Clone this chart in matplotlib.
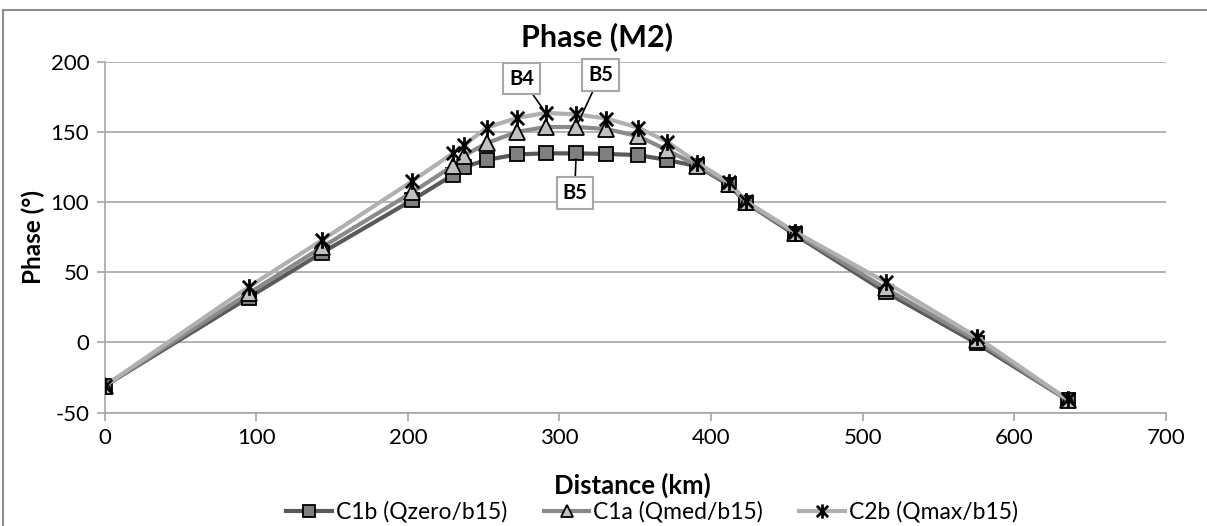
import matplotlib
matplotlib.use('Agg')
import matplotlib.pyplot as plt
from matplotlib.path import Path
from matplotlib.lines import Line2D

plt.rcParams['font.family'] = ['Lato', 'DejaVu Sans']
plt.rcParams['axes.unicode_minus'] = False

# Datos
distancia = [0, 95, 143.5, 203, 230, 237, 252, 272, 291, 311, 331, 352, 371, 391, 412, 423, 455, 515, 575, 635]
c1b = [-31, 32, 64, 101.5, 119.5, 125, 130, 134, 134.7, 134.7, 134.3, 133.5, 130, 125.5, 112, 99.5, 77, 36, -0.5, -41]
c1a = [-31, 35, 68, 107, 126, 133, 142, 150, 153.5, 153.5, 152, 147, 137, 126, 113, 100, 78, 38.5, 1.5, -41]
c2b = [-31, 39.5, 73, 115, 135, 140.5, 153, 160, 163.5, 162.5, 159.5, 153, 143, 128, 114, 100.5, 79, 43, 4, -40.5]
nombres = ['C1b (Qzero/b15)', 'C1a (Qmed/b15)', 'C2b (Qmax/b15)']

# Etiquetas: (texto, punto señalado, posición de la caja)
etiquetas = [
    ('B4', (291, 163.5), (275, 188)),
    ('B5', (311, 153.5), (327, 190.5)),
    ('B5', (311, 134.7), (310, 106.5)),
]

# Marcador "estrella" tipo Excel: X con línea vertical
estrella = Path([(-1, -1), (1, 1), (-1, 1), (1, -1), (0, -1.25), (0, 1.25)],
                [Path.MOVETO, Path.LINETO, Path.MOVETO, Path.LINETO, Path.MOVETO, Path.LINETO])

fig = plt.figure(figsize=(12.07, 5.26), dpi=100)
ax = fig.add_axes([0.0866, 0.2154, 0.8795, 0.6673])

ax.plot(distancia, c1b, color='#5a5a5a', lw=3, marker='s', ms=9.5,
        mfc='#808080', mec='black', mew=1.3, label=nombres[0], zorder=3)
ax.plot(distancia, c1a, color='#8a8a8a', lw=3, marker='^', ms=11,
        mfc='#c0c0c0', mec='black', mew=1.3, label=nombres[1], zorder=4)
ax.plot(distancia, c2b, color='#b0b0b0', lw=3, marker=estrella, ms=12,
        mec='black', mew=2, label=nombres[2], zorder=5)

for texto, punto, caja in etiquetas:
    ax.annotate(texto, xy=punto, xytext=caja, textcoords='data',
                ha='center', va='center', fontsize=14.5, fontweight='bold',
                bbox=dict(boxstyle='square,pad=0.28', fc='white', ec='#a6a6a6', lw=1.5),
                arrowprops=dict(arrowstyle='-', color='black', lw=1.2, shrinkA=0, shrinkB=4),
                zorder=6)

ax.set_xlim(0, 700)
ax.set_ylim(-50, 200)
ax.set_xticks(range(0, 701, 100))
ax.set_yticks(range(-50, 201, 50))
ax.yaxis.grid(True, color='#a6a6a6', lw=1.2)
ax.set_axisbelow(True)
for lado in ['top', 'right']:
    ax.spines[lado].set_visible(False)
for lado in ['left', 'bottom']:
    ax.spines[lado].set_color('#a6a6a6')
    ax.spines[lado].set_linewidth(1.2)
ax.tick_params(axis='both', colors='#a6a6a6', labelcolor='black', labelsize=16,
               length=6, width=1.2, direction='out', pad=5)

# Título (centrado algo a la izquierda, como en el original)
fig.text(597 / 1207, 1 - 37 / 526, 'Phase (M2)', fontsize=22, fontweight='bold',
         ha='center', va='center')

ax.set_xlabel('Distance (km)', fontsize=18.5, fontweight='bold')
ax.xaxis.set_label_coords((632 - 104.5) / 1061.5, (412.7 - 485) / 351)
ax.xaxis.label.set_va('center')
ax.set_ylabel('Phase (°)', fontsize=17.5, fontweight='bold')
ax.yaxis.set_label_coords((33 - 104.5) / 1061.5, 0.5)
ax.yaxis.label.set_va('center')

ax.legend(loc='center', bbox_to_anchor=(652 / 1207, 1 - 512 / 526), bbox_transform=fig.transFigure,
          ncol=3, frameon=False, fontsize=16.5, handlelength=2.0, columnspacing=1.6,
          handletextpad=0.15, borderpad=0, borderaxespad=0, markerscale=0.85)

# Marco exterior del gráfico
fig.add_artist(Line2D([3 / 1207, 1], [1 - 10 / 526, 1 - 10 / 526], color='#8c8c8c', lw=1.5))
fig.add_artist(Line2D([3 / 1207, 3 / 1207], [0, 1 - 10 / 526], color='#8c8c8c', lw=1.5))

fig.savefig('out.png', dpi=100)
